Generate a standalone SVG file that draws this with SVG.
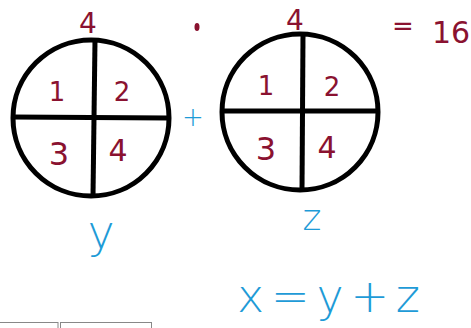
<svg xmlns="http://www.w3.org/2000/svg" width="471" height="328" viewBox="0 0 471 328">
<style>
.ring{fill:none;stroke:#000;stroke-width:5}
.bar{stroke:#000;stroke-width:5}
.red{fill:#8a1230;font-family:"DejaVu Sans",sans-serif}
.blue{fill:#1e9bd7;font-family:"DejaVu Sans",sans-serif}
.tab{fill:none;stroke:#888;stroke-width:1}
</style>
<rect width="471" height="328" fill="#fff"/>
<g id="circle-y">
<ellipse class="ring" cx="91" cy="118" rx="78" ry="78"/>
<line class="bar" x1="95" y1="40" x2="93" y2="196"/>
<line class="bar" x1="13" y1="117" x2="168" y2="118"/>
<text class="red" x="88" y="33" font-size="28" text-anchor="middle">4</text>
<text class="red" x="57" y="101" font-size="26" text-anchor="middle">1</text>
<text class="red" x="122" y="101" font-size="26" text-anchor="middle">2</text>
<text class="red" x="59" y="165" font-size="32" text-anchor="middle">3</text>
<text class="red" x="118" y="161" font-size="30" text-anchor="middle">4</text>
<text class="blue" x="101" y="248" font-size="46" text-anchor="middle" font-weight="300">y</text>
</g>
<g id="circle-z">
<ellipse class="ring" cx="300" cy="112" rx="78" ry="78"/>
<line class="bar" x1="303" y1="34" x2="302" y2="190"/>
<line class="bar" x1="222" y1="111" x2="378" y2="111"/>
<text class="red" x="295" y="30" font-size="28" text-anchor="middle">4</text>
<text class="red" x="266" y="95" font-size="26" text-anchor="middle">1</text>
<text class="red" x="332" y="96" font-size="26" text-anchor="middle">2</text>
<text class="red" x="266" y="160" font-size="32" text-anchor="middle">3</text>
<text class="red" x="327" y="158" font-size="30" text-anchor="middle">4</text>
<text class="blue" x="312" y="230" font-size="36" text-anchor="middle" font-weight="300">z</text>
</g>
<g id="connectors">
<text class="blue" x="193" y="126" font-size="26" text-anchor="middle" font-weight="300">+</text>
<ellipse cx="197" cy="27" rx="2.5" ry="4" fill="#8a1230"/>
<text class="red" x="403" y="35" font-size="26" text-anchor="middle">=</text>
<text class="red" x="451" y="43" font-size="30" text-anchor="middle">16</text>
<text class="blue" x="237" y="312" font-size="46" textLength="183" lengthAdjust="spacing" font-weight="300">x=y+z</text>
</g>
<rect class="tab" x="-1" y="322.5" width="59" height="8"/>
<rect class="tab" x="60.5" y="322.5" width="91" height="8"/>
</svg>
